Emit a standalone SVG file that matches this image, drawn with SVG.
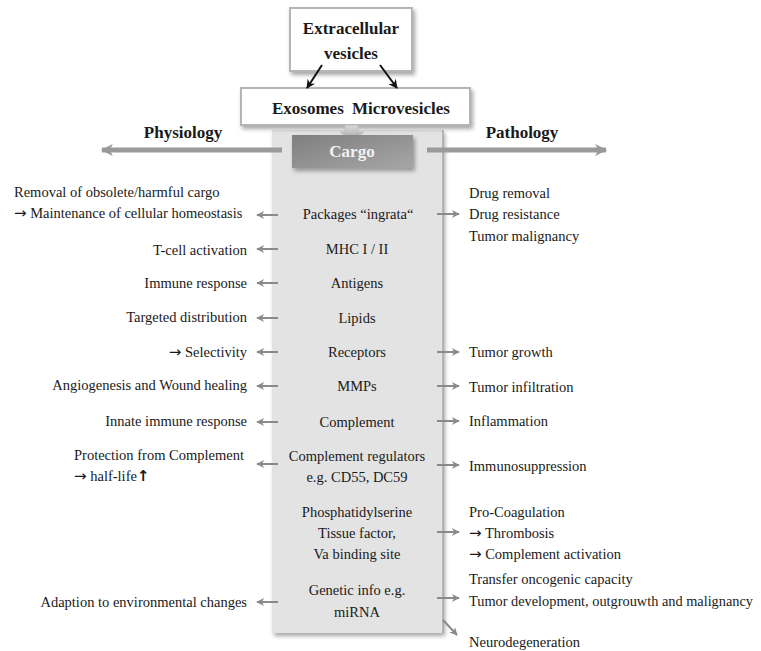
<svg xmlns="http://www.w3.org/2000/svg" width="761" height="651" viewBox="0 0 761 651">
<defs>
  <filter id="sh" x="-10%" y="-10%" width="130%" height="140%">
    <feDropShadow dx="2" dy="3" stdDeviation="2" flood-color="#000" flood-opacity="0.35"/>
  </filter>
  <linearGradient id="cargoG" x1="0" y1="0" x2="1" y2="1">
    <stop offset="0" stop-color="#7f7f7f"/>
    <stop offset="1" stop-color="#a6a6a6"/>
  </linearGradient>
  <linearGradient id="downG" x1="0" y1="0" x2="0" y2="1">
    <stop offset="0" stop-color="#d8d8d8"/>
    <stop offset="1" stop-color="#a8a8a8"/>
  </linearGradient>
  <marker id="sm" viewBox="0 0 10 10" refX="9" refY="5" markerWidth="9" markerHeight="8" orient="auto" markerUnits="userSpaceOnUse">
    <path d="M0,0 L10,5 L0,10 L3,5 Z" fill="#8a8a8a"/>
  </marker>
  <marker id="big" viewBox="0 0 10 10" refX="9" refY="5" markerWidth="14" markerHeight="12" orient="auto" markerUnits="userSpaceOnUse">
    <path d="M0,0 L10,5 L0,10 L2.5,5 Z" fill="#9a9a9a"/>
  </marker>
  <marker id="blk" viewBox="0 0 10 10" refX="9" refY="5" markerWidth="10" markerHeight="9" orient="auto" markerUnits="userSpaceOnUse">
    <path d="M0,0 L10,5 L0,10 L3,5 Z" fill="#111"/>
  </marker>
</defs>
<style>
  text { font-family: "Liberation Serif", "Times New Roman", serif; fill: #1a1a1a; }
  .t { font-size: 14.5px; }
  .c { text-anchor: middle; }
  .r { text-anchor: end; }
  .h { font-size: 17px; font-weight: bold; }
  .ar { font-family: "DejaVu Sans", sans-serif; font-size: 15px; }
  .box { fill: #fff; stroke: #b5b5b5; stroke-width: 2; }
  .sa { stroke: #8a8a8a; stroke-width: 2; fill: none; marker-end: url(#sm); }
  .ba { stroke: #9a9a9a; stroke-width: 5; fill: none; marker-end: url(#big); }
</style>

<g id="cargo-panel">
  <rect x="272" y="130" width="171" height="503" fill="#e3e3e3" filter="url(#sh)"/>
  <line x1="443" y1="130" x2="443" y2="633" stroke="#a8a8a8" stroke-width="1.5"/>
</g>

<g id="extracellular">
  <rect class="box" x="290" y="8" width="122" height="63" filter="url(#sh)"/>
  <text class="h c" x="351" y="34">Extracellular</text>
  <text class="h c" x="351" y="59">vesicles</text>
</g>

<g id="subtypes">
  <rect class="box" x="241" y="88" width="229" height="37" filter="url(#sh)"/>
  <text class="h" x="272" y="114">Exosomes</text>
  <text class="h" x="352" y="114">Microvesicles</text>
</g>

<g id="connectors">
  <line x1="322" y1="65" x2="307" y2="88" stroke="#111" stroke-width="2" marker-end="url(#blk)"/>
  <line x1="380" y1="65" x2="397" y2="88" stroke="#111" stroke-width="2" marker-end="url(#blk)"/>
  <path d="M345,125 L358,125 L358,132 L364,132 L352,141 L340,132 L345,132 Z" fill="url(#downG)" stroke="#bdbdbd" stroke-width="0.8"/>
  <line class="ba" x1="282" y1="150" x2="102" y2="150"/>
  <line class="ba" x1="427" y1="150" x2="606" y2="150"/>
  <line class="sa" x1="278" y1="215" x2="257" y2="215"/>
  <line class="sa" x1="278" y1="249" x2="257" y2="249"/>
  <line class="sa" x1="278" y1="283" x2="257" y2="283"/>
  <line class="sa" x1="278" y1="318" x2="257" y2="318"/>
  <line class="sa" x1="278" y1="352" x2="257" y2="352"/>
  <line class="sa" x1="278" y1="386" x2="257" y2="386"/>
  <line class="sa" x1="278" y1="422" x2="257" y2="422"/>
  <line class="sa" x1="278" y1="464" x2="257" y2="464"/>
  <line class="sa" x1="278" y1="602" x2="257" y2="602"/>
  <line class="sa" x1="437" y1="214" x2="459" y2="214"/>
  <line class="sa" x1="437" y1="352" x2="459" y2="352"/>
  <line class="sa" x1="437" y1="386" x2="459" y2="386"/>
  <line class="sa" x1="437" y1="421" x2="459" y2="421"/>
  <line class="sa" x1="437" y1="465" x2="459" y2="465"/>
  <line class="sa" x1="437" y1="532" x2="459" y2="532"/>
  <line class="sa" x1="437" y1="598" x2="459" y2="598"/>
  <line class="sa" x1="443" y1="620" x2="457" y2="635"/>
</g>

<g id="cargo">
  <rect x="292" y="135" width="121" height="33" fill="url(#cargoG)" filter="url(#sh)"/>
  <text class="h c" x="352" y="157" style="fill:#f2f2f2">Cargo</text>
</g>

<g id="headers">
  <text class="h c" x="183" y="138">Physiology</text>
  <text class="h c" x="522" y="138">Pathology</text>
</g>

<g id="cargo-items">
  <text class="t c" x="358" y="219">Packages “ingrata“</text>
  <text class="t c" x="357" y="254">MHC I / II</text>
  <text class="t c" x="357" y="288">Antigens</text>
  <text class="t c" x="357" y="323">Lipids</text>
  <text class="t c" x="357" y="357">Receptors</text>
  <text class="t c" x="357" y="391">MMPs</text>
  <text class="t c" x="357" y="427">Complement</text>
  <text class="t c" x="357" y="461">Complement regulators</text>
  <text class="t c" x="357" y="482">e.g. CD55, DC59</text>
  <text class="t c" x="357" y="517">Phosphatidylserine</text>
  <text class="t c" x="357" y="538">Tissue factor,</text>
  <text class="t c" x="357" y="559">Va binding site</text>
  <text class="t c" x="357" y="595">Genetic info e.g.</text>
  <text class="t c" x="357" y="617">miRNA</text>
</g>

<g id="physiology-items">
  <text class="t" x="14" y="197">Removal of obsolete/harmful cargo</text>
  <text class="t" x="14" y="218"><tspan class="ar">→</tspan> Maintenance of cellular homeostasis</text>
  <text class="t r" x="247" y="255">T-cell activation</text>
  <text class="t r" x="247" y="288">Immune response</text>
  <text class="t r" x="247" y="322">Targeted distribution</text>
  <text class="t r" x="247" y="357"><tspan class="ar">→</tspan> Selectivity</text>
  <text class="t r" x="247" y="390">Angiogenesis and Wound healing</text>
  <text class="t r" x="247" y="426">Innate immune response</text>
  <text class="t" x="74" y="460">Protection from Complement</text>
  <text class="t" x="74" y="481"><tspan class="ar">→</tspan> half-life<tspan class="ar" font-weight="bold">↑</tspan></text>
  <text class="t r" x="247" y="607">Adaption to environmental changes</text>
</g>

<g id="pathology-items">
  <text class="t" x="469" y="198">Drug removal</text>
  <text class="t" x="469" y="219">Drug resistance</text>
  <text class="t" x="469" y="241">Tumor malignancy</text>
  <text class="t" x="469" y="357">Tumor growth</text>
  <text class="t" x="469" y="392">Tumor infiltration</text>
  <text class="t" x="469" y="426">Inflammation</text>
  <text class="t" x="469" y="471">Immunosuppression</text>
  <text class="t" x="469" y="517">Pro-Coagulation</text>
  <text class="t" x="469" y="538"><tspan class="ar">→</tspan> Thrombosis</text>
  <text class="t" x="469" y="559"><tspan class="ar">→</tspan> Complement activation</text>
  <text class="t" x="469" y="584">Transfer oncogenic capacity</text>
  <text class="t" x="469" y="606" textLength="284" lengthAdjust="spacingAndGlyphs">Tumor development, outgrouwth and malignancy</text>
  <text class="t" x="469" y="647">Neurodegeneration</text>
</g>
</svg>
